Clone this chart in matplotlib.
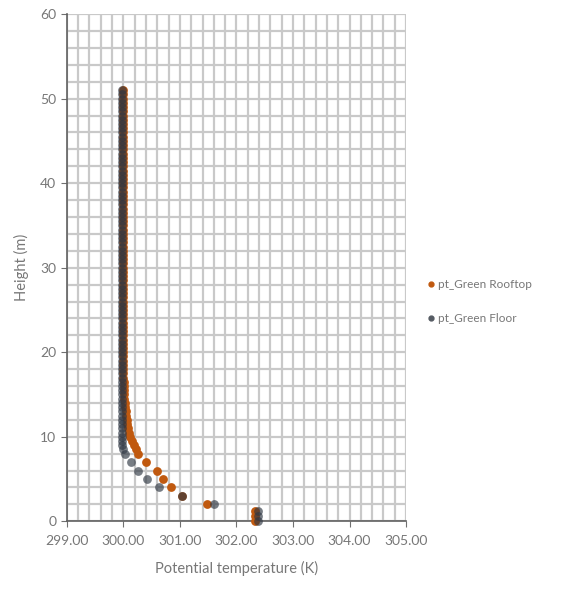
import matplotlib.pyplot as plt
from matplotlib.ticker import MultipleLocator, FormatStrFormatter

plt.rcParams['font.family'] = ['Lato', 'DejaVu Sans']

# potential temperature profiles (K) against height (m), surface layer
z_low = [0.0, 0.6, 1.2, 2.0, 3.0, 4.0, 5.0, 6.0, 7.0, 8.0]
pt_rooftop_low = [302.33, 302.33, 302.33, 301.48, 301.04, 300.84, 300.70, 300.59, 300.40, 300.26]
pt_floor_low = [302.38, 302.38, 302.38, 301.60, 301.04, 300.63, 300.42, 300.26, 300.13, 300.03]

# upper levels, every 0.5 m
z_up = [8.5, 9.0, 9.5, 10.0, 10.5, 11.0, 11.5, 12.0, 12.5, 13.0, 13.5, 14.0, 14.5, 15.0,
        15.5, 16.0, 16.5, 17.0, 17.5, 18.0, 18.5, 19.0, 19.5, 20.0, 20.5, 21.0, 21.5, 22.0,
        22.5, 23.0, 23.5, 24.0, 24.5, 25.0, 25.5, 26.0, 26.5, 27.0, 27.5, 28.0, 28.5, 29.0,
        29.5, 30.0, 30.5, 31.0, 31.5, 32.0, 32.5, 33.0, 33.5, 34.0, 34.5, 35.0, 35.5, 36.0,
        36.5, 37.0, 37.5, 38.0, 38.5, 39.0, 39.5, 40.0, 40.5, 41.0, 41.5, 42.0, 42.5, 43.0,
        43.5, 44.0, 44.5, 45.0, 45.5, 46.0, 46.5, 47.0, 47.5, 48.0, 48.5, 49.0, 49.5, 50.0,
        50.5, 51.0]
pt_rooftop_up = [300.22, 300.19, 300.15, 300.12, 300.10, 300.08, 300.07, 300.06, 300.05, 300.04,
                 300.03, 300.03, 300.02, 300.02, 300.01, 300.01, 300.01, 300.00, 300.00, 300.00,
                 300.00, 300.00, 300.00, 300.00, 299.99, 299.99, 299.99, 299.99, 299.99, 299.99,
                 299.99, 299.99, 299.99, 299.99, 299.99, 299.99, 299.99, 299.99, 299.99, 299.99,
                 299.99, 299.99, 299.99, 299.99, 299.99, 299.99, 299.99, 299.99, 299.99, 299.99,
                 299.99, 299.99, 299.99, 299.99, 299.99, 299.99, 299.99, 299.99, 299.99, 299.99,
                 299.99, 299.99, 299.99, 299.99, 299.99, 299.99, 299.99, 299.99, 299.99, 299.99,
                 299.99, 299.99, 299.99, 299.99, 299.99, 299.99, 299.99, 299.99, 299.99, 299.99,
                 299.99, 299.99, 299.99, 299.99, 299.99, 299.99]
pt_floor_up = [300.00, 299.97, 299.97, 299.97, 299.97, 299.97, 299.97, 299.97, 299.97, 299.97,
               299.97, 299.97, 299.97, 299.97, 299.98, 299.98, 299.98, 299.98, 299.98, 299.98,
               299.98, 299.98, 299.98, 299.98, 299.98, 299.98, 299.98, 299.98, 299.98, 299.98,
               299.98, 299.98, 299.98, 299.98, 299.98, 299.98, 299.98, 299.98, 299.98, 299.98,
               299.98, 299.98, 299.98, 299.98, 299.98, 299.98, 299.98, 299.98, 299.98, 299.98,
               299.98, 299.98, 299.98, 299.98, 299.98, 299.98, 299.98, 299.98, 299.98, 299.98,
               299.98, 299.98, 299.98, 299.98, 299.98, 299.98, 299.98, 299.98, 299.98, 299.98,
               299.98, 299.98, 299.98, 299.98, 299.98, 299.98, 299.98, 299.98, 299.98, 299.98,
               299.98, 299.98, 299.98, 299.98, 299.98, 299.98]

heights = z_low + z_up
pt_rooftop = pt_rooftop_low + pt_rooftop_up
pt_floor = pt_floor_low + pt_floor_up

roof_color = '#C0590F'
floor_color = '#2F3743'

fig = plt.figure(figsize=(5.76, 5.89), dpi=100)
ax = fig.add_axes([0.116, 0.115, 0.589, 0.861])

ax.scatter(pt_rooftop, heights, s=40, color=roof_color, zorder=3, clip_on=False,
           linewidths=0)
ax.scatter(pt_floor, heights, s=40, color=floor_color, zorder=4, clip_on=False,
           linewidths=0, alpha=0.65)

ax.set_xlim(299, 305)
ax.set_ylim(0, 60)
ax.xaxis.set_major_locator(MultipleLocator(1))
ax.xaxis.set_minor_locator(MultipleLocator(0.2))
ax.yaxis.set_major_locator(MultipleLocator(10))
ax.yaxis.set_minor_locator(MultipleLocator(2))
ax.xaxis.set_major_formatter(FormatStrFormatter('%.2f'))

ax.grid(which='both', color='#C9C9C9', linewidth=1.6)
ax.set_axisbelow(True)
ax.tick_params(which='major', length=4, color='#707070', labelsize=10, labelcolor='#777777')
ax.tick_params(which='minor', length=0)
ax.tick_params(axis='x', pad=6)

for side in ['top', 'right']:
    ax.spines[side].set_visible(False)
for side in ['left', 'bottom']:
    ax.spines[side].set_color('#606060')
    ax.spines[side].set_linewidth(1.2)

ax.set_xlabel('Potential temperature (K)', fontsize=10.5, color='#777777', labelpad=10)
ax.set_ylabel('Height (m)', fontsize=10.5, color='#777777', labelpad=8)

# legend markers drawn solid
h1 = plt.Line2D([], [], ls='', marker='o', ms=3.5, color=roof_color)
h2 = plt.Line2D([], [], ls='', marker='o', ms=3.5, color='#555B63')
fig.legend([h1, h2], ['pt_Green Rooftop', 'pt_Green Floor'], loc='center left',
           bbox_to_anchor=(0.72, 0.488), frameon=False, fontsize=8.5, labelcolor='#777777',
           handletextpad=0.1, labelspacing=1.9, handlelength=1.0)

fig.savefig('out.png', dpi=100)
